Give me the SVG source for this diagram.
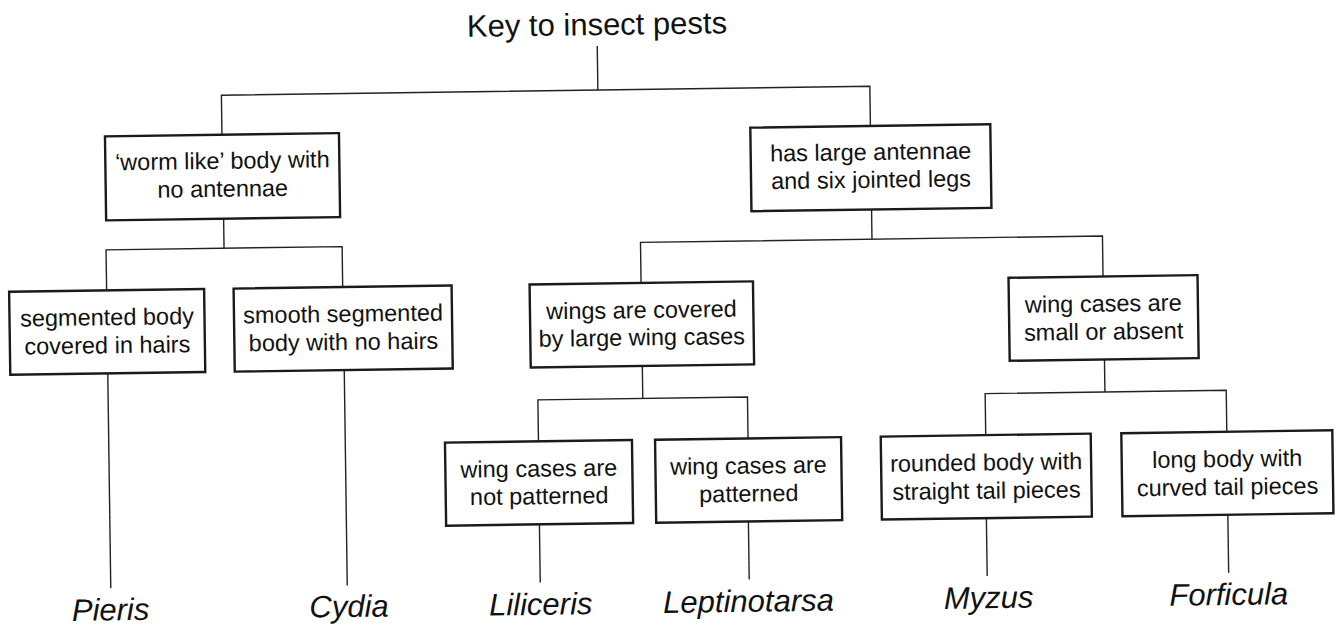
<svg xmlns="http://www.w3.org/2000/svg" width="1343" height="628" viewBox="0 0 1343 628">
<style>
.box{fill:#fff;stroke:#1a1a1a;stroke-width:2.4}
.con{fill:none;stroke:#222;stroke-width:1.4}
.t{font-family:"Liberation Sans",Arial,sans-serif;font-size:23.5px;fill:#111;text-anchor:middle}
.sp{font-family:"Liberation Sans",Arial,sans-serif;font-size:31px;font-style:italic;fill:#111;text-anchor:middle}
.title{font-family:"Liberation Sans",Arial,sans-serif;font-size:31px;fill:#111;text-anchor:middle}
</style>
<rect width="1343" height="628" fill="#fff"/>
<g transform="rotate(-0.8 671 314)">
<text class="title" x="601" y="34">Key to insect pests</text>
<g id="connectors">
<path class="con" d="M601 45V89"/>
<path class="con" d="M224.5 128.5V89H873V128.5"/>
<path class="con" d="M225 212.5V242"/>
<path class="con" d="M107 282.5V242H343.1V282.5"/>
<path class="con" d="M873 212.3V242"/>
<path class="con" d="M641.5 282.5V242H1103.5V282.5"/>
<path class="con" d="M641.6 365.5V398"/>
<path class="con" d="M536.7 439.5V398H746.3V439.5"/>
<path class="con" d="M1103.8 365.5V398"/>
<path class="con" d="M984 439.5V398H1225.1V439.5"/>
<path class="con" d="M107 365.5V580.5"/>
<path class="con" d="M343.5 365.5V581"/>
<path class="con" d="M536.5 522.5V580.7"/>
<path class="con" d="M745.5 522.5V580.5"/>
<path class="con" d="M983.5 522.5V580.5"/>
<path class="con" d="M1225 522.5V580.5"/>
</g>
<g id="n-worm"><rect class="box" x="107.5" y="128.5" width="234" height="84"/>
<text class="t" x="224.5" y="162.5">‘worm like’ body with</text><text class="t" x="224.5" y="190.5">no antennae</text></g>
<g id="n-large"><rect class="box" x="752.9" y="128.8" width="240" height="83.5"/>
<text class="t" x="872.9" y="162.8">has large antennae</text><text class="t" x="872.9" y="190.5">and six jointed legs</text></g>
<g id="n-segmented"><rect class="box" x="9.5" y="282.5" width="195" height="83"/>
<text class="t" x="107" y="317.3">segmented body</text><text class="t" x="107" y="345.4">covered in hairs</text></g>
<g id="n-smooth"><rect class="box" x="234" y="282.5" width="218" height="83"/>
<text class="t" x="343.1" y="317.3">smooth segmented</text><text class="t" x="343.1" y="345.4">body with no hairs</text></g>
<g id="n-wings"><rect class="box" x="530" y="282.5" width="223.4" height="83"/>
<text class="t" x="641.5" y="317.6">wings are covered</text><text class="t" x="641.5" y="345">by large wing cases</text></g>
<g id="n-small"><rect class="box" x="1009" y="282.5" width="189" height="83"/>
<text class="t" x="1103.4" y="317.6">wing cases are</text><text class="t" x="1103.4" y="345.6">small or absent</text></g>
<g id="n-notpat"><rect class="box" x="443.2" y="439.5" width="187" height="83"/>
<text class="t" x="536.7" y="474.7">wing cases are</text><text class="t" x="536.7" y="502.3">not patterned</text></g>
<g id="n-pat"><rect class="box" x="653.3" y="439.5" width="186" height="83"/>
<text class="t" x="746.3" y="474.7">wing cases are</text><text class="t" x="746.3" y="502.7">patterned</text></g>
<g id="n-rounded"><rect class="box" x="879" y="439.5" width="210" height="83"/>
<text class="t" x="984" y="474.8">rounded body with</text><text class="t" x="984" y="503">straight tail pieces</text></g>
<g id="n-long"><rect class="box" x="1119.6" y="439.5" width="211" height="83"/>
<text class="t" x="1225.1" y="474.6">long body with</text><text class="t" x="1225.1" y="502.7">curved tail pieces</text></g>
<g id="leaves">
<text class="sp" x="106.5" y="612.5">Pieris</text>
<text class="sp" x="345" y="612.5">Cydia</text>
<text class="sp" x="536.7" y="613">Liliceris</text>
<text class="sp" x="744.5" y="612.8">Leptinotarsa</text>
<text class="sp" x="984.7" y="612.7">Myzus</text>
<text class="sp" x="1224.8" y="612.8">Forficula</text>
</g>
</g>
</svg>
